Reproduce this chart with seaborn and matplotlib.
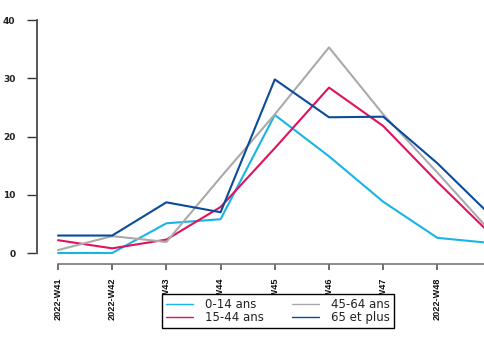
import matplotlib
matplotlib.use("Agg")
import matplotlib.pyplot as plt
from matplotlib.lines import Line2D
import seaborn as sns
import pandas as pd

weeks = ["2022-W41", "2022-W42", "2022-W43", "2022-W44", "2022-W45",
         "2022-W46", "2022-W47", "2022-W48", "2022-W49"]
groups = ["0-14 ans", "15-44 ans", "45-64 ans", "65 et plus"]
v_0_14 = [0.0, 0.0, 5.1, 5.8, 23.7, 16.6, 8.8, 2.6, 1.7]
v_15_44 = [2.2, 0.8, 2.3, 7.9, 18.0, 28.4, 21.8, 12.2, 3.1]
v_45_64 = [0.5, 2.9, 1.9, 13.0, 23.8, 35.3, 23.8, 13.8, 3.5]
v_65_plus = [3.0, 3.0, 8.7, 7.0, 29.8, 23.3, 23.4, 15.4, 6.3]
y_ticks = [0, 10, 20, 30, 40]

colors = ["#19B4E6", "#E0115F", "#AAAAAA", "#0A4B9B"]

rows = []
for g, vals in zip(groups, [v_0_14, v_15_44, v_45_64, v_65_plus]):
    for i, (w, v) in enumerate(zip(weeks, vals)):
        rows.append({"idx": i, "week": w, "group": g, "value": v})
df = pd.DataFrame(rows)

sns.set_style("white")
plt.rcParams["font.family"] = ["DejaVu Sans"]

W, H = 485, 338
fig = plt.figure(figsize=(W / 100, H / 100), dpi=100)
ax = fig.add_axes([37 / W, (H - 264) / H, 1 - 37 / W, (264 - 20) / H])

sns.lineplot(data=df, x="idx", y="value", hue="group", hue_order=groups,
             palette=colors, linewidth=1.5, ax=ax, legend=False)

step = 54.2
x_left = -(58 - 37) / step
x_right = (485 - 58) / step
y0px = 253
ypx10 = 58.3

visible = [i for i in range(len(weeks)) if i <= x_right]
ax.set_xticks(visible)
ax.set_xticklabels([weeks[i] for i in visible], rotation=90, fontsize=6.6,
                   family=["Liberation Sans", "DejaVu Sans"], fontweight="bold",
                   color="#111111")
ax.set_yticks(y_ticks)
ax.set_yticklabels([str(t) for t in y_ticks], fontsize=6.5, fontweight="bold", color="#222222")
ax.set_xlim(x_left, x_right)
ax.set_ylim((y0px - 264) / ypx10 * 10, 40)
ax.set_xlabel("")
ax.set_ylabel("")

for s in ["top", "right"]:
    ax.spines[s].set_visible(False)
ax.spines["left"].set_bounds(0, 40)
ax.spines["bottom"].set_bounds(0, x_right)
ax.spines["left"].set_color("#555555")
ax.spines["bottom"].set_color("#777777")
ax.spines["left"].set_linewidth(1.4)
ax.spines["bottom"].set_linewidth(1.2)
ax.tick_params(axis="y", length=7.5, width=1.0, pad=8, color="#333333", left=True)
ax.tick_params(axis="x", length=4.5, width=1.2, pad=5, color="#555555", bottom=True)
ax.grid(False)

handles = [Line2D([0], [0], color=c, lw=1.0) for c in colors]
leg = fig.legend(handles, groups, ncol=2, loc="upper left",
                 bbox_to_anchor=(162 / W, 1 - 294 / H), borderaxespad=0,
                 fontsize=8.5, frameon=True, fancybox=False, edgecolor="black",
                 framealpha=1, handlelength=2.3, handletextpad=1.0,
                 columnspacing=2.4, labelspacing=0.0, borderpad=0.35)
leg.get_frame().set_linewidth(1.0)
for t in leg.get_texts():
    t.set_color("#222222")

fig.savefig("out.png", dpi=100)
